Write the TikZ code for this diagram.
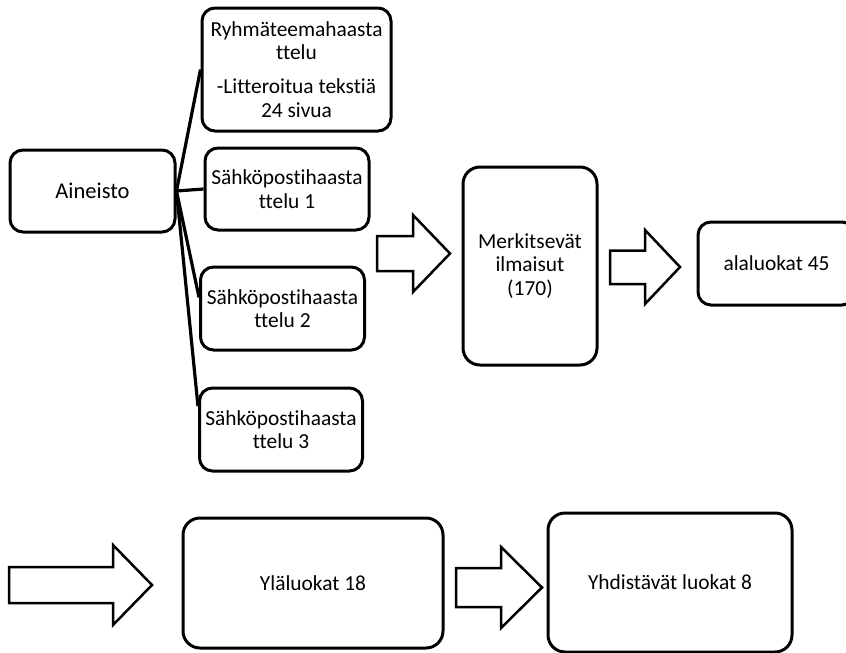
\documentclass[tikz,border=0pt]{standalone}
\usepackage{fontspec}
\setmainfont{Carlito}[Ligatures={NoCommon}]
\usetikzlibrary{calc}
\tikzset{
  box/.style={draw, line width=3pt, rounded corners=13pt, inner sep=0pt, align=center,
    font=\fontsize{21.4}{23.3}\selectfont},
  bigbox/.style={box, rounded corners=17pt},
  conn/.style={line width=3.2pt},
  blockarrow/.style={draw, line width=2.5pt, fill=white, line join=miter},
}
\begin{document}
\begin{tikzpicture}[x=1pt,y=-1pt]
\useasboundingbox (0,0) rectangle (846,653);
\clip (0,0) rectangle (846,653);
\fill[white] (0,0) rectangle (846,653);

% left column
\node[box, minimum width=165pt, minimum height=82pt, font=\fontsize{22.5}{24}\selectfont] (ain) at (92.5,191) {Aineisto};
\node[box, minimum width=189pt, minimum height=123pt] (ryh) at (296.5,69.5)
  {Ryhmäteemahaasta\\ttelu\\[10.7pt]-Litteroitua tekstiä\\24 sivua};
\node[box, minimum width=164pt, minimum height=82pt] (s1) at (287,189) {Sähköpostihaasta\\ttelu 1};
\node[box, minimum width=164pt, minimum height=83pt] (s2) at (282.5,308.5) {Sähköpostihaasta\\ttelu 2};
\node[box, minimum width=163pt, minimum height=83pt] (s3) at (281,429.5) {Sähköpostihaasta\\ttelu 3};

% connectors
\coordinate (s2in) at ($(s2.north west)!0.37!(s2.south west)$);
\coordinate (s3in) at ($(s3.north west)!0.23!(s3.south west)$);
\draw[conn] (ain.east) -- (ryh.west);
\draw[conn] (ain.east) -- (s1.west);
\draw[conn] (ain.east) -- (s2in);
\draw[conn] (ain.east) -- (s3in);

% middle / right
\node[bigbox, minimum width=134pt, minimum height=198pt] (mer) at (530,266) {Merkitsevät\\ilmaisut\\(170)};
\node[box, minimum width=157pt, minimum height=83pt] (ala) at (776.5,263.5) {alaluokat 45};

% bottom row
\node[bigbox, minimum width=260pt, minimum height=130pt] (yla) at (313,583) {Yläluokat 18};
\node[bigbox, minimum width=244pt, minimum height=139pt] (yhd) at (670,582.5) {Yhdistävät luokat 8};

% block arrows
\draw[blockarrow] (377,236) -- (413,236) -- (413,215) -- (450,253.5) -- (413,292) -- (413,271) -- (377,271) -- cycle;
\draw[blockarrow] (610,250.5) -- (645,250.5) -- (645,230) -- (680,267) -- (645,304) -- (645,284) -- (610,284) -- cycle;
\draw[blockarrow] (9,567) -- (113,567) -- (113,545) -- (152,585) -- (113,625) -- (113,603) -- (9,603) -- cycle;
\draw[blockarrow] (456,568) -- (501,568) -- (501,547) -- (542,587.5) -- (501,628) -- (501,607) -- (456,607) -- cycle;
\end{tikzpicture}
\end{document}
